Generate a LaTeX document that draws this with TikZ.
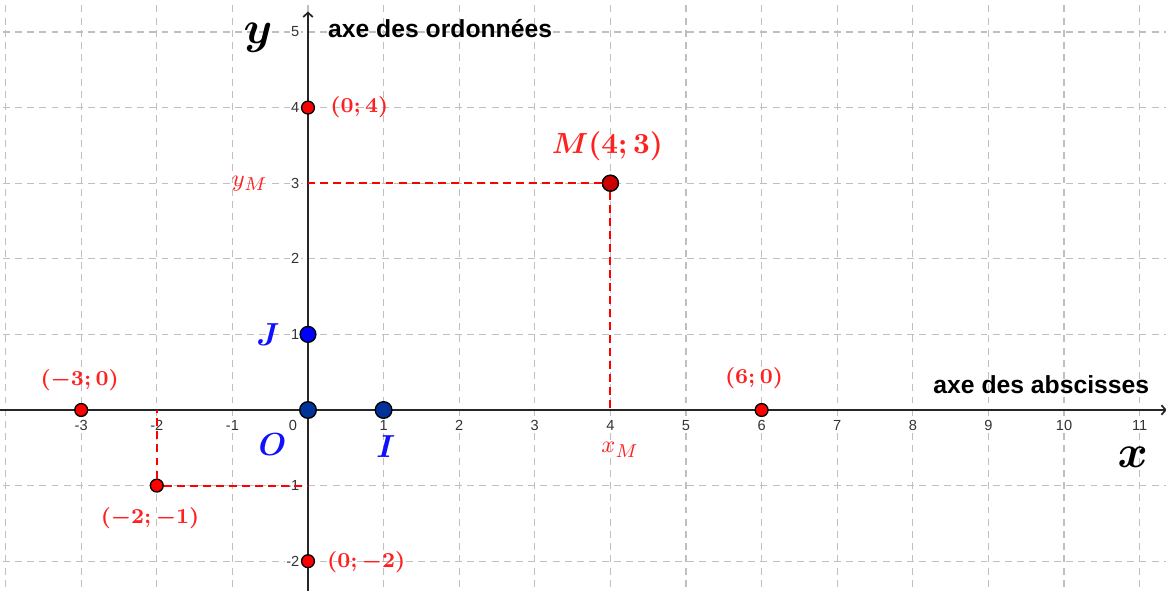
\documentclass[tikz,border=0pt]{standalone}
\usepackage{fontspec}
\newfontfamily\axfont{Liberation Sans}
\usetikzlibrary{arrows.meta}
\definecolor{navypt}{HTML}{003399}
\definecolor{darkredpt}{HTML}{CC0000}
\definecolor{labred}{HTML}{FF2020}
\definecolor{labblue}{HTML}{1010FF}
\tikzset{
  gridline/.style={draw=black!25, line width=0.45pt, dash pattern=on 2.6pt off 2pt},
  axisline/.style={draw=black!85, line width=0.65pt},
  ticklab/.style={font=\axfont\fontsize{5.5}{6}\selectfont, fill=white, inner sep=0.5pt, text=black!80},
  ptbase/.style={circle, draw=black, line width=0.5pt, inner sep=0pt},
  redpt/.style={ptbase, fill=red, minimum size=0.17cm},
  bigredpt/.style={ptbase, fill=darkredpt, minimum size=0.21cm},
  bluept/.style={ptbase, fill=navypt, minimum size=0.22cm},
  jpt/.style={ptbase, fill=blue, minimum size=0.21cm},
  redlab/.style={text=labred, font=\fontsize{8.3}{10}\selectfont\boldmath, inner sep=0pt},
  bigredlab/.style={text=labred, font=\fontsize{11}{13}\selectfont\boldmath, inner sep=0pt},
  sublab/.style={text=labred, font=\fontsize{9.3}{11}\selectfont, inner sep=0pt},
  bluelab/.style={text=labblue, font=\fontsize{12}{14}\selectfont\boldmath, inner sep=0pt},
  axname/.style={font=\fontsize{16}{18}\selectfont\boldmath, inner sep=0pt},
  axtext/.style={font=\axfont\bfseries\fontsize{9.3}{11}\selectfont, inner sep=0pt},
  guide/.style={draw=red, line width=0.75pt, dash pattern=on 3pt off 1.9pt},
}
\begin{document}
\begin{tikzpicture}
\useasboundingbox (-4.074,-2.381) rectangle (11.349,5.423);
\begin{scope}
\clip (-4.074,-2.381) rectangle (11.349,5.423);
% grid
\foreach \i in {-4,...,11} \draw[gridline] (\i,-2.5) -- (\i,5.6);
\foreach \j in {-2,...,5} \draw[gridline] (-4.2,\j) -- (11.5,\j);
% axes
\coordinate (xl) at (-4.1,0);
\coordinate (xr) at (11.36,0);
\coordinate (yb) at (0,-2.4);
\coordinate (yt) at (0,5.27);
\draw[axisline,-{Straight Barb[length=1.6pt,width=3.6pt]}] (xl) -- (xr);
\draw[axisline,-{Straight Barb[length=1.6pt,width=3.6pt]}] (yb) -- (yt);
\end{scope}
% tick labels
\foreach \i in {-3,-2,-1,1,2,3,4,5,6,7,8,9,10,11} \node[ticklab] (tx\i) at (\i,-0.2) {\i};
\foreach \j in {-2,-1,1,2,3,4,5} \node[ticklab, anchor=east] (ty\j) at (-0.09,\j) {\j};
\node[ticklab] (t0) at (-0.2,-0.2) {0};
% guide lines
\coordinate (pyM) at (0,3);
\coordinate (pxM) at (4,0);
\coordinate (pym1) at (0,-1);
\coordinate (pxm2) at (-2,0);
\node[bigredpt] (M) at (4,3) {};
\node[redpt] (A) at (-2,-1) {};
\draw[guide] (M) -- (pyM);
\draw[guide] (M) -- (pxM);
\draw[guide] (A) -- (pym1);
\draw[guide] (A) -- (pxm2);
\node[bigredpt] (M) at (4,3) {};
% points
\node[redpt] (P04) at (0,4) {};
\node[redpt] (Pm30) at (-3,0) {};
\node[redpt] (P60) at (6,0) {};
\node[redpt] (P0m2) at (0,-2) {};
\node[bluept] (O) at (0,0) {};
\node[bluept] (I) at (1,0) {};
\node[jpt] (J) at (0,1) {};
% labels
\node[axname] (ylab) at (-0.66,4.93) {$y$};
\node[axname] (xlab) at (10.91,-0.63) {$x$};
\node[axtext, anchor=west] (ord) at (0.26,5.05) {axe des ordonnées};
\node[axtext] (abs) at (9.70,0.33) {axe des abscisses};
\node[redlab, anchor=west] (l04) at (0.29,4.0) {$(0;4)$};
\node[bigredlab] (lM) at (3.96,3.49) {$M(4;3)$};
\node[sublab] (lyM) at (-0.77,3.0) {$y_M$};
\node[sublab] (lxM) at (4.13,-0.53) {$x_M$};
\node[redlab] (lm30) at (-3.02,0.40) {$(-3;0)$};
\node[redlab] (l60) at (5.90,0.42) {$(6;0)$};
\node[redlab] (lA) at (-2.09,-1.43) {$(-2;-1)$};
\node[redlab] (l0m2) at (0.77,-2.01) {$(0;-2)$};
\node[bluelab] (lO) at (-0.47,-0.46) {$O$};
\node[bluelab] (lI) at (1.03,-0.49) {$I$};
\node[bluelab] (lJ) at (-0.53,1.0) {$J$};
\end{tikzpicture}
\end{document}
